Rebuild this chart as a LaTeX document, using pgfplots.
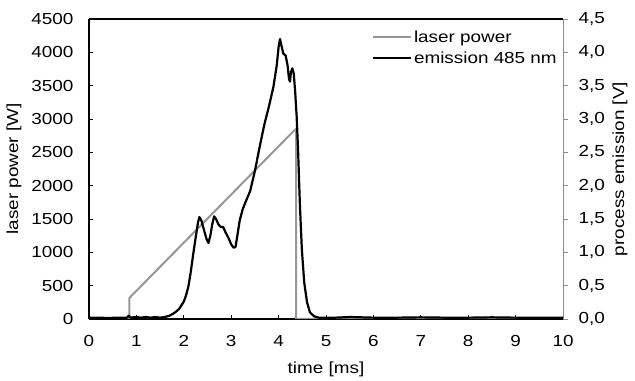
\documentclass[border=0pt]{standalone}
\usepackage{pgfplots}
\pgfplotsset{compat=1.18}
\usepackage{fontspec}
\setmainfont[FakeStretch=1.18]{Liberation Sans}
\definecolor{lasergray}{RGB}{150,150,150}
\definecolor{axgray}{RGB}{140,140,140}
\begin{document}
\begin{tikzpicture}
\useasboundingbox (-89bp,-62bp) rectangle (546bp,319bp);
\pgfplotsset{every axis/.append style={font=\fontsize{16bp}{19bp}\selectfont},
  /pgf/number format/assume math mode=true}
\begin{axis}[
  scale only axis, width=474bp, height=300bp,
  xmin=0, xmax=10, ymin=0, ymax=4500,
  axis y line*=left, axis x line*=box,
  xtick={0,1,...,10}, ytick={0,500,...,4500},
  xtick pos=bottom, ytick pos=left,
  tick align=inside, major tick length=4bp,
  tick style={black, line width=0.8bp},
  axis line style={black, line width=1.2bp},
  /pgf/number format/1000 sep={},
  xticklabel style={yshift=-13bp},
  yticklabel style={xshift=-12bp},
  xlabel={time [ms]}, ylabel={laser power [W]},
  xlabel style={at={(rel axis cs:0.5,0)}, anchor=center, yshift=-50bp},
  ylabel style={at={(rel axis cs:0,0.5)}, anchor=center, yshift=75bp},
]
\addplot[lasergray, line width=2bp] coordinates {
(0,0) (0.85,0) (0.85,310) (0.9,350) (4.36,2850) (4.37,2850) (4.37,0) (10,0)
};
\end{axis}
\begin{axis}[
  scale only axis, width=474bp, height=300bp,
  xmin=0, xmax=10, ymin=0, ymax=4.5,
  axis y line*=right, axis x line=none,
  ytick={0,0.5,...,4.5},
  tick align=outside, major tick length=5bp,
  y axis line style={axgray, line width=1bp},
  ytick style={axgray, line width=0.8bp},
  yticklabel style={xshift=7bp},
  /pgf/number format/.cd, use comma, fixed, fixed zerofill, precision=1,
  /pgfplots/.cd,
  legend style={draw=none, fill=none, at={(0.59,0.975)}, anchor=north west,
    row sep=4bp, font=\fontsize{16bp}{19bp}\selectfont},
  legend cell align=left,
  legend image code/.code={\draw[#1] (0bp,0bp) -- (38bp,0bp);},
]
\addlegendimage{lasergray, line width=2bp}
\addlegendentry{laser power}
\addplot[black, line width=2.2bp, line join=round] coordinates {
(0,0.02) (0.2,0.02) (0.4,0.015) (0.6,0.02) (0.8,0.02) (0.84,0.05) (0.87,0.02)
(1.0,0.03) (1.1,0.02) (1.2,0.03) (1.3,0.02) (1.4,0.03) (1.5,0.02) (1.6,0.03)
(1.7,0.05) (1.8,0.09) (1.9,0.15) (2.0,0.26) (2.05,0.36) (2.1,0.5) (2.15,0.72)
(2.2,0.98) (2.25,1.22) (2.3,1.45) (2.33,1.53) (2.37,1.48) (2.42,1.35) (2.48,1.2)
(2.52,1.14) (2.56,1.25) (2.6,1.42) (2.64,1.54) (2.68,1.5) (2.73,1.42) (2.78,1.38)
(2.83,1.38) (2.88,1.3) (2.94,1.22) (3.0,1.12) (3.05,1.07) (3.09,1.08) (3.13,1.25)
(3.18,1.48) (3.24,1.64) (3.3,1.75) (3.4,1.92) (3.5,2.22) (3.6,2.58) (3.7,2.92)
(3.8,3.2) (3.89,3.48) (3.96,3.8) (4.0,4.08) (4.03,4.2) (4.06,4.1) (4.1,3.98)
(4.15,3.95) (4.19,3.8) (4.22,3.6) (4.24,3.56) (4.26,3.7) (4.29,3.76) (4.32,3.68)
(4.35,3.4) (4.38,3.05) (4.41,2.55) (4.45,1.7) (4.49,1.05) (4.54,0.55) (4.6,0.25)
(4.66,0.1) (4.75,0.04) (4.85,0.02) (5.2,0.02) (5.5,0.03) (6,0.02) (6.5,0.02)
(7,0.025) (7.5,0.02) (8,0.02) (8.5,0.025) (9,0.02) (9.5,0.02) (10,0.02)
};
\addlegendentry{emission 485 nm}
\end{axis}
\node[rotate=90, anchor=center, font=\fontsize{16bp}{19bp}\selectfont] at (531bp,150bp) {process emission [V]};
\end{tikzpicture}
\end{document}
